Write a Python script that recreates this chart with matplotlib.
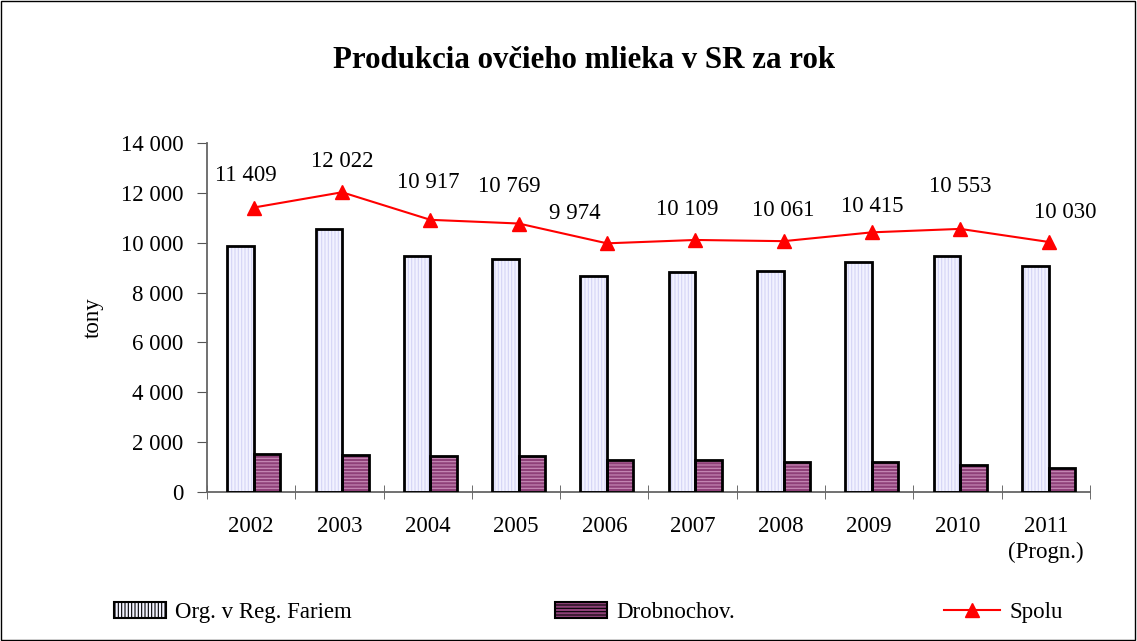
import matplotlib
matplotlib.use("Agg")
import matplotlib.pyplot as plt
import numpy as np
from matplotlib.patches import Patch, Rectangle
from matplotlib.lines import Line2D

years = ["2002", "2003", "2004", "2005", "2006", "2007", "2008", "2009", "2010", "2011\n(Progn.)"]
org = [9880, 10540, 9460, 9340, 8680, 8810, 8860, 9215, 9450, 9070]
drob = [1530, 1480, 1450, 1430, 1290, 1300, 1200, 1200, 1100, 960]
spolu = [11409, 12022, 10917, 10769, 9974, 10109, 10061, 10415, 10553, 10030]
spolu_labels = ["11 409", "12 022", "10 917", "10 769", "9 974", "10 109", "10 061", "10 415", "10 553", "10 030"]
yticks = [0, 2000, 4000, 6000, 8000, 10000, 12000, 14000]
ytick_labels = ["0", "2 000", "4 000", "6 000", "8 000", "10 000", "12 000", "14 000"]

plt.rcParams['font.family'] = ['Liberation Serif', 'DejaVu Serif']
plt.rcParams['hatch.linewidth'] = 0.8

FS = 16.5

fig = plt.figure(figsize=(11.37, 6.41), dpi=100)
fig.patches.append(Rectangle((0.001, 0.001), 0.997, 0.997, transform=fig.transFigure,
                             fill=False, edgecolor='black', linewidth=1.0))
ax = fig.add_axes([0.182, 0.2324, 0.7767, 0.5446])

x = np.arange(len(years))
w = 0.30
off = 0.03

org_fill = '#F2F2FF'
org_hatch = '#D4D4F6'
drob_fill = '#8E4078'
drob_hatch = '#C98DB8'

# hatched fills
ax.bar(x - w / 2 + off, org, w, color=org_fill, edgecolor=org_hatch, hatch='|||||', linewidth=0, zorder=2)
ax.bar(x + w / 2 + off, drob, w, color=drob_fill, edgecolor=drob_hatch, hatch='-----', linewidth=0, zorder=2)
# black outlines
ax.bar(x - w / 2 + off, org, w, fill=False, edgecolor='black', linewidth=2, zorder=3)
ax.bar(x + w / 2 + off, drob, w, fill=False, edgecolor='black', linewidth=2, zorder=3)

ax.plot(x + off, spolu, color='red', linewidth=1.5, marker='^', markersize=10, zorder=4)

label_offsets = [(-8, 32), (0, 31), (-2, 37), (-9, 37), (-32, 30), (-8, 30), (0, 31), (0, 26), (0, 42), (17, 29)]
for xi, v, lab, (dx, dy) in zip(x + off, spolu, spolu_labels, label_offsets):
    ax.annotate(lab, (xi, v), xytext=(dx, dy), textcoords='offset pixels',
                ha='center', va='center', fontsize=FS)

ax.set_xlim(-0.5, len(years) - 0.5)
ax.set_ylim(0, 14000)
ax.set_yticks(yticks)
ax.set_yticklabels(ytick_labels, fontsize=FS)
ax.set_xticks(x)
ax.set_xticklabels(years, fontsize=FS, linespacing=1.3)
ax.tick_params(axis='x', length=0, pad=17)
ax.set_xticks(np.arange(-0.5, len(years)), minor=True)
ax.tick_params(axis='x', which='minor', length=10, direction='inout', color='#555555')
ax.tick_params(axis='y', length=7, direction='out', color='#555555', pad=10)

for s in ['top', 'right']:
    ax.spines[s].set_visible(False)
ax.spines['left'].set_color('#666666')
ax.spines['bottom'].set_color('#666666')
ax.spines['left'].set_linewidth(1.3)
ax.spines['bottom'].set_linewidth(1.3)

ax.set_ylabel('tony', fontsize=FS, labelpad=12)

fig.text(0.514, 0.905, 'Produkcia ovčieho mlieka v SR za rok', ha='center', va='center',
         fontsize=22.2, fontweight='bold')

h1 = Patch(facecolor=org_fill, edgecolor='black', hatch='|||||', linewidth=1.5)
h2 = Patch(facecolor=drob_fill, edgecolor='black', hatch='-----', linewidth=1.5)
h3 = Line2D([], [], color='red', linewidth=1.5, marker='^', markersize=10)
common = dict(frameon=False, fontsize=FS, handleheight=0.7, handletextpad=0.4,
              loc='center left', borderaxespad=0, borderpad=0)
fig.legend([h1], ['Org. v Reg. Fariem'], bbox_to_anchor=(0.1003, 0.044), handlelength=2.27, **common)
fig.legend([h2], ['Drobnochov.'], bbox_to_anchor=(0.488, 0.044), handlelength=2.27, **common)
fig.legend([h3], ['Spolu'], bbox_to_anchor=(0.830, 0.044), handlelength=2.45, **common)

fig.savefig('out.png', dpi=100)
